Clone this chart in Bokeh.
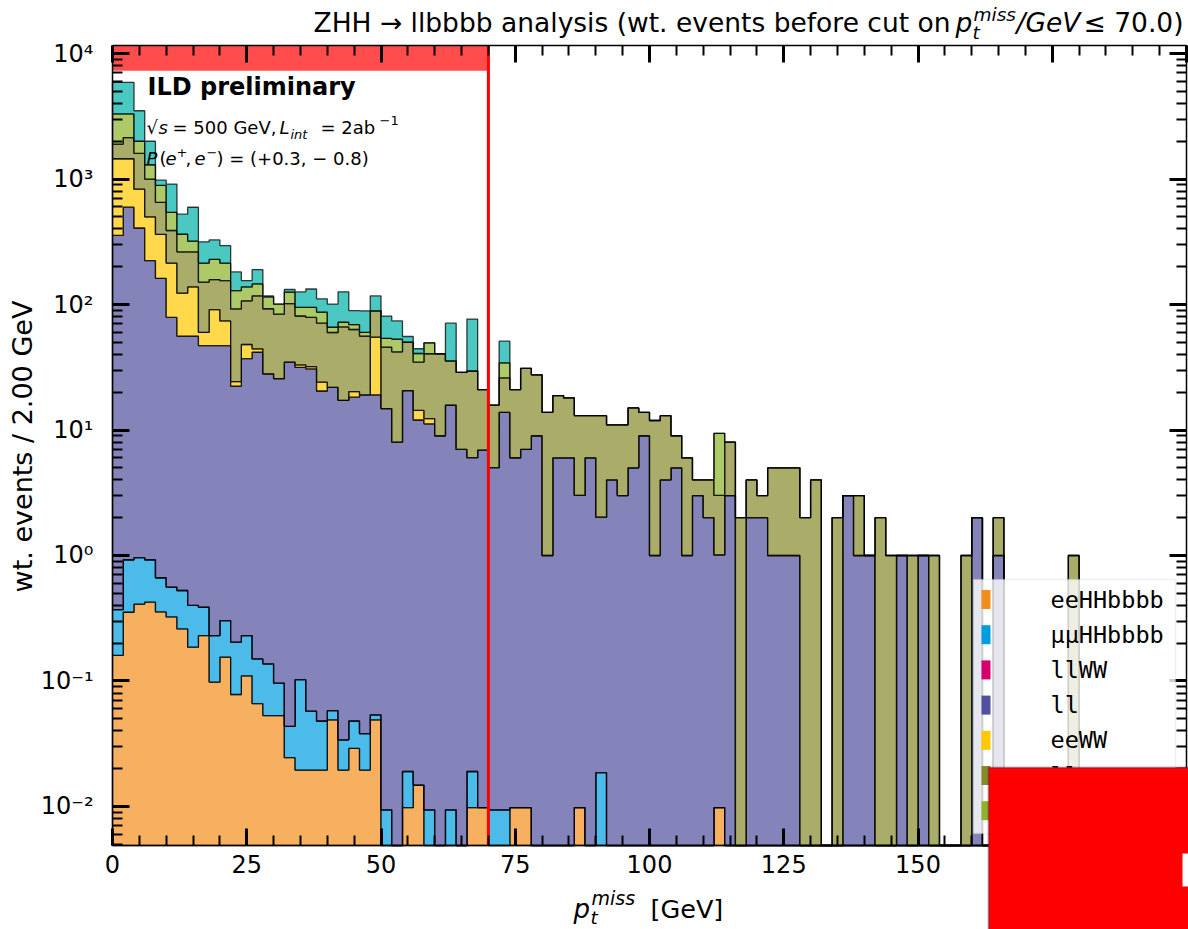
import numpy as np
from bokeh.plotting import figure
from bokeh.models import (Label, BoxAnnotation, LinearAxis, LogAxis, CustomJSTickFormatter,
                          SingleIntervalTicker, LogTicker, Range1d)
from bokeh.embed import file_html
from bokeh.resources import INLINE

# ---------------- data (2 GeV bins, 0..200 GeV) ----------------
bin_edges = list(range(0, 202, 2))
cut_value = 70.0

eeHHbbbb = [0.16, 0.353, 0.41, 0.425, 0.355, 0.324, 0.26, 0.186, 0.23, 0.098,
            0.155, 0.078, 0.11, 0.066, 0.053, 0.053, 0.0245, 0.0195, 0.0195, 0.0195,
            0.049, 0.0195, 0.029, 0.0195, 0.049, 0, 0, 0.0098, 0.0148, 0,
            0, 0, 0, 0.0098, 0.0098, 0, 0, 0.0098, 0.0098, 0,
            0, 0, 0, 0.0098, 0, 0, 0, 0, 0, 0,
            0, 0, 0, 0, 0, 0, 0.0098, 0, 0, 0,
            0, 0, 0, 0, 0, 0, 0, 0, 0, 0,
            0, 0, 0, 0, 0, 0, 0, 0, 0, 0,
            0, 0, 0, 0, 0, 0, 0, 0, 0, 0,
            0, 0, 0, 0, 0, 0, 0, 0, 0, 0]

mumuHHbbbb = [0.21, 0.572, 0.55, 0.5, 0.31, 0.236, 0.266, 0.214, 0.157, 0.132,
              0.148, 0.126, 0.12, 0.084, 0.084, 0.043, 0.019, 0.083, 0.038, 0.0285,
              0.009, 0.0145, 0.019, 0.0185, 0.0047, 0.0094, 0, 0.0092, 0, 0.0094,
              0, 0.0094, 0, 0.0092, 0, 0.0094, 0.0094, 0, 0, 0,
              0, 0, 0, 0, 0, 0.0186, 0, 0, 0, 0,
              0, 0, 0, 0, 0, 0, 0, 0, 0, 0,
              0, 0, 0, 0, 0, 0, 0, 0, 0, 0,
              0, 0, 0, 0, 0, 0, 0, 0, 0, 0,
              0, 0, 0, 0, 0, 0, 0, 0, 0, 0,
              0, 0, 0, 0, 0, 0, 0, 0, 0, 0]

llWW = [0, 0, 0, 0, 0, 0, 0, 0, 0, 0,
        0, 0, 0, 0, 0, 0, 0, 0, 0, 0,
        0, 0, 0, 0, 0, 0, 0, 0, 0, 0,
        0, 0, 0, 0, 0, 0, 0, 0, 0, 0,
        0, 0, 0, 0, 0, 0, 0, 0, 0, 0,
        0, 0, 0, 0, 0, 0, 0, 0, 0, 0,
        0, 0, 0, 0, 0, 0, 0, 0, 0, 0,
        0, 0, 0, 0, 0, 0, 0, 0, 0, 0,
        0, 0, 0, 0, 0, 0, 0, 0, 0, 0,
        0, 0, 0, 0, 0, 0, 0, 0, 0, 0]

ll = [355, 596, 406, 223, 161, 78.4, 55.5, 55.6, 46.6, 46.8,
      46.7, 22.2, 36.8, 41.5, 27.9, 25.6, 34.7, 31.5, 30.6, 20.4,
      21.8, 17.2, 18.2, 19, 19, 14.8, 8, 20.6, 12, 11.2,
      9, 15.8, 7, 6, 6.9, 5, 13.8, 6, 7, 9,
      1, 6, 6, 3, 6, 2, 4, 3, 5, 9,
      1, 4, 5, 1, 3, 2, 1, 3, 0, 2,
      2, 1, 1, 1, 0, 0, 0, 0, 3, 1,
      1, 0, 0, 1, 0, 1, 0, 0, 0, 0,
      2, 0, 1, 0, 0, 0, 0, 0, 0, 0,
      0, 0, 0, 0, 0, 0, 0, 0, 0, 0]

eeWW = [1095, 854, 423, 276, 201, 135, 67, 82, 13, 44,
        27, 1.9, 11, 2.7, 0, 0, 0, 1.4, 1.3, 3.6,
        0, 0, 2, 0, 36, 0, 0, 0, 2.3, 1.1,
        0, 0, 0, 0, 0, 0, 0, 0, 0, 0,
        0, 0, 0, 0, 0, 0, 0, 0, 0, 0,
        0, 0, 0, 0, 0, 0, 0, 0, 0, 0,
        0, 0, 0, 0, 0, 0, 0, 0, 0, 0,
        0, 0, 0, 0, 0, 0, 0, 0, 0, 0,
        0, 0, 0, 0, 0, 0, 0, 0, 0, 0,
        0, 0, 0, 0, 0, 0, 0, 0, 0, 0]

llqq = [450, 690, 770, 500, 290, 175, 140, 125, 91, 67,
        81, 68, 59, 73, 64.5, 58, 67, 48, 47, 47,
        38, 49, 43, 37, 34, 31, 34, 29.4, 20.4, 28.2,
        31.5, 19.7, 21.8, 23.5, 14.1, 10.8, 12.2, 15, 24, 18.5,
        12.8, 12.8, 12, 10, 7, 11, 7, 8, 10, 4.8,
        10.9, 9, 4, 5, 1, 2, 2, 5, 2, 2,
        1, 4, 4, 4, 2, 4, 0, 2, 0, 2,
        0, 2, 1, 0, 1, 0, 1, 0, 0, 1,
        0, 0, 1, 0, 0, 0, 0, 0, 0, 1,
        0, 0, 0, 0, 0, 0, 0, 0, 0, 0]

llbb = [1400, 1160, 400, 300, 237, 154, 100, 57, 63, 71,
        59, 36.5, 31, 28.5, 22.5, 17, 24, 14, 16, 16,
        6, 6, 6, 4, 0, 8, 11, 0, 6, 9,
        0, 0, 0, 0, 0, 0, 8.3, 0, 0, 0,
        0, 0, 0, 0, 0, 0, 0, 0, 0, 0,
        0, 0, 0, 0, 0, 0, 6.4, 0, 0, 0,
        0, 0, 0, 0, 0, 0, 0, 0, 0, 0,
        0, 0, 0, 0, 0, 0, 0, 0, 0, 0,
        0, 0, 0, 0, 0, 0, 0, 0, 0, 0,
        0, 0, 0, 0, 0, 0, 0, 0, 0, 0]

other = [2600, 2600, 1500, 700, 90, 369, 162, 276, 102, 98,
         81, 53, 17, 44, 2, 0, 6, 31, 38, 24,
         35, 54, 20, 29, 28, 27, 21, 5.6, 3.7, 0,
         0, 35.5, 0, 47, 0, 0, 16.7, 0, 0, 0,
         0, 0, 0, 0, 0, 0, 0, 0, 0, 0,
         0, 0, 0, 0, 0, 0, 0, 0, 0, 0,
         0, 0, 0, 0, 0, 0, 0, 0, 0, 0,
         0, 0, 0, 0, 0, 0, 0, 0, 0, 0,
         0, 0, 0, 0, 0, 0, 0, 0, 0, 0,
         0, 0, 0, 0, 0, 0, 0, 0, 0, 0]

series_names = ["eeHHbbbb", "μμHHbbbb", "llWW", "ll", "eeWW", "llqq", "llbb", "other"]
series_values = [eeHHbbbb, mumuHHbbbb, llWW, ll, eeWW, llqq, llbb, other]
series_colors = ["#f28e1c", "#009ee0", "#d4006e", "#50509e", "#ffc800", "#858a2a", "#8cb428", "#00b0a8"]
legend_count = 7

x_lo, x_hi = 0.0, 200.0
logy_lo, logy_hi = -2.311, 4.064
x_ticks_interval = 25

# ---------------- geometry (canvas px) ----------------
W, H = 1188, 929
FL, FR, FT, FB = 112, 1186, 45, 845          # visible axes box
px_per_x = (FR - FL) / (x_hi - x_lo)
px_per_dec = (FB - FT) / (logy_hi - logy_lo)
xr = Range1d(x_lo - FL / px_per_x, x_hi + (W - FR) / px_per_x)
yr = Range1d(10 ** (logy_lo - (H - FB) / px_per_dec), 10 ** (logy_hi + FT / px_per_dec))
y_lo, y_hi = 10 ** logy_lo, 10 ** logy_hi

p = figure(width=W, height=H, output_backend="svg", toolbar_location=None,
           y_axis_type="log", x_range=xr, y_range=yr,
           min_border=0, min_border_left=0, min_border_right=0, min_border_top=0, min_border_bottom=0,
           background_fill_color="white", border_fill_color="white")
p.grid.visible = False
p.outline_line_color = None

DV = "DejaVu Sans"
BASE_SHIFT = 0.34   # compensates the renderer's placement of the alphabetic baseline


def txt(t, cx, cy, size, font=DV, style="normal", align="left", angle=0.0, color="black"):
    d = BASE_SHIFT * size
    cx2 = cx - np.sin(angle) * d
    cy2 = cy - np.cos(angle) * d
    p.add_layout(Label(x=float(cx2), y=float(H - cy2), x_units="screen", y_units="screen", text=t,
                       text_font=font, text_font_size=f"{size}px", text_font_style=style,
                       text_align=align, text_baseline="alphabetic", angle=float(angle), text_color=color))


def box(l, r, t, b, **kw):
    p.add_layout(BoxAnnotation(left=l, right=r, top=H - t, bottom=H - b,
                               left_units="screen", right_units="screen",
                               top_units="screen", bottom_units="screen", **kw))


# ---------------- stacked histogram ----------------
edges = np.array(bin_edges, dtype=float)
x_step = np.repeat(edges, 2)[1:-1]
cum = np.zeros(len(edges) - 1)
for name, vals, col in zip(series_names, series_values, series_colors):
    top = cum + np.array(vals, dtype=float)
    hi = np.repeat(np.maximum(top, y_lo), 2)
    lo = np.repeat(np.maximum(cum, y_lo), 2)
    xs = np.concatenate([x_step, x_step[::-1]])
    ys = np.concatenate([hi, lo[::-1]])
    p.patch(xs, ys, fill_color=col, fill_alpha=0.7, line_color="black", line_alpha=0.75, line_width=1.3)
    cum = top

# cut marker: shaded band at the top and vertical line
p.quad(left=[x_lo], right=[cut_value], bottom=[7300], top=[y_hi], fill_color="red", fill_alpha=0.7, line_color=None)
p.segment(x0=[cut_value], x1=[cut_value], y0=[y_lo], y1=[y_hi], line_color="red", line_width=3)


# ---------------- axes (fixed on the visible box) ----------------
def style_axis(ax, labels=True):
    ax.major_tick_in = 17
    ax.major_tick_out = 0
    ax.minor_tick_in = 10
    ax.minor_tick_out = 0
    ax.major_tick_line_width = 3
    ax.minor_tick_line_width = 2
    ax.axis_line_width = 1.5
    ax.axis_label = None
    if labels:
        ax.major_label_text_font = DV
        ax.major_label_text_font_size = "24px"
        ax.major_label_text_color = "black"
    else:
        ax.formatter = CustomJSTickFormatter(code="return ''")
        ax.major_label_text_font_size = "0px"
        ax.major_label_standoff = 0


xb = p.xaxis[0]
xb.ticker = SingleIntervalTicker(interval=x_ticks_interval, num_minor_ticks=5)
style_axis(xb)
xb.fixed_location = y_lo
xb.bounds = (x_lo, x_hi)
xb.major_label_standoff = 9

yl = p.yaxis[0]
yl.ticker = LogTicker(num_minor_ticks=10)
style_axis(yl)
yl.formatter = CustomJSTickFormatter(code="""
const sup = {"-": "\u207b", "0": "\u2070", "1": "\u00b9", "2": "\u00b2", "3": "\u00b3",
             "4": "\u2074", "5": "\u2075", "6": "\u2076", "7": "\u2077", "8": "\u2078", "9": "\u2079"};
const e = Math.round(Math.log10(tick));
return "10" + String(e).split("").map((c) => sup[c]).join("");
""")
yl.major_label_text_font_size = "24px"
yl.fixed_location = x_lo
yl.bounds = (y_lo, y_hi)
yl.major_label_standoff = 19

top_ax = LinearAxis(ticker=SingleIntervalTicker(interval=x_ticks_interval, num_minor_ticks=5))
style_axis(top_ax, labels=False)
top_ax.fixed_location = y_hi
top_ax.bounds = (x_lo, x_hi)
p.add_layout(top_ax, "above")

right_ax = LogAxis(ticker=LogTicker(num_minor_ticks=10))
style_axis(right_ax, labels=False)
right_ax.fixed_location = x_hi
right_ax.bounds = (y_lo, y_hi)
p.add_layout(right_ax, "right")

# ---------------- texts ----------------
# title
txt("ZHH → llbbbb analysis (wt. events before cut on", 313, 31, 26.5)
txt("p", 955, 31, 26.5, style="italic")
txt("t", 972, 38, 18.5, style="italic")
txt("miss", 973, 20, 18.5, style="italic")
txt("/GeV", 1016, 31, 26.5, style="italic")
txt("≤ 70.0)", 1183, 31, 26.5, align="right")

# x axis label
txt("p", 573, 917, 26, style="italic")
txt("t", 590, 923, 18.5, style="italic")
txt("miss", 591, 904, 19, style="italic")
txt("[GeV]", 650, 917, 25.5)

# y axis label
txt("wt. events / 2.00 GeV", 31, 446, 27, align="center", angle=np.pi / 2)

# ILD labels
txt("ILD preliminary", 147, 95, 24, style="bold")
txt("√", 146, 133, 18)
txt("s", 158, 133, 18, style="italic")
txt("= 500 GeV,", 172, 133, 18)
txt("L", 279, 133, 18, style="italic")
txt("int", 290, 138, 13, style="italic")
txt("= 2ab", 320, 133, 18)
txt("−1", 379, 124, 13)

txt("P", 146, 164, 18, style="italic")
txt("(", 159, 164, 18)
txt("e", 165, 164, 18, style="italic")
txt("+", 176, 156, 13)
txt(",", 185, 164, 18)
txt("e", 194, 164, 18, style="italic")
txt("−", 206, 156, 13)
txt(") = (+0.3, − 0.8)", 216, 164, 18)

# ---------------- legend (drawn by hand) ----------------
box(973, 1175, 579, 833, fill_color="white", fill_alpha=0.8, line_color="#cccccc", line_width=1.5)
for k, (name, col) in enumerate(list(zip(series_names, series_colors))[:legend_count]):
    cy = 599 + 35.2 * k
    box(981, 990, cy - 9.5, cy + 9.5, fill_color=col, fill_alpha=1.0, line_color=None)
    txt(name, 1050, cy + 8, 23.5, font="DejaVu Sans Mono")

# ---------------- overlay box (as in the reference picture) ----------------
box(988, 1300, 767, 1100, fill_color="red", fill_alpha=1.0, line_color="#1c2b4a", line_width=2, level="overlay")
box(1182, 1300, 853, 886, fill_color="white", fill_alpha=1.0, line_color=None, level="overlay")

open("out.html", "w").write(file_html(p, INLINE))
